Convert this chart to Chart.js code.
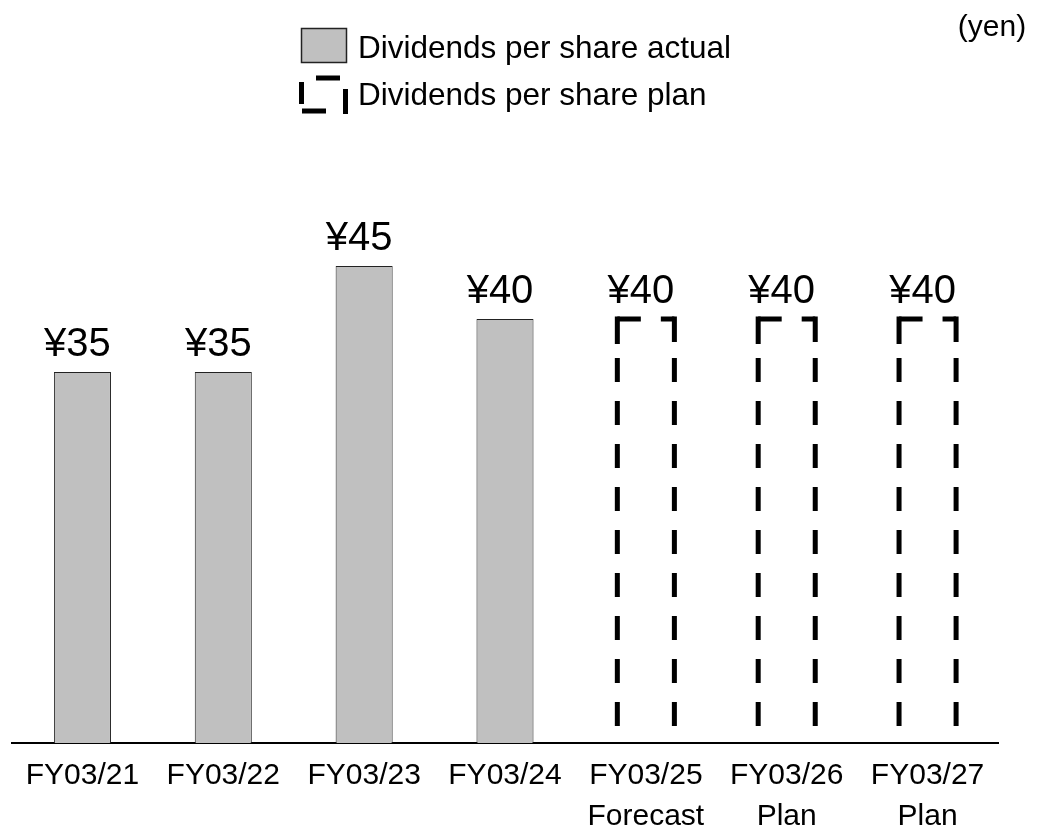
<!DOCTYPE html>
<html>
<head>
<meta charset="utf-8">
<script src="https://cdn.jsdelivr.net/npm/chart.js@4"></script>
<style>
  html, body { margin: 0; padding: 0; background: #fff; }
  #wrap { width: 1051px; height: 826px; position: relative; }
</style>
</head>
<body>
<div id="wrap"><canvas id="dividendChart"></canvas></div>
<script>
// Dữ liệu cổ tức mỗi cổ phiếu (yen)
const fiscalYears = ['FY03/21', 'FY03/22', 'FY03/23', 'FY03/24', 'FY03/25', 'FY03/26', 'FY03/27'];
const yearNotes = ['', '', '', '', 'Forecast', 'Plan', 'Plan'];
const actualDividends = [35, 35, 45, 40, null, null, null];
const planDividends = [null, null, null, null, 40, 40, 40];
const legendLabels = ['Dividends per share actual', 'Dividends per share plan'];
const unitLabel = '(yen)';

const FONT = '"Liberation Sans", Arial, sans-serif';
const barFill = '#c0c0c0';
const barEdge = '#222222';

// Nhãn trục x: có dòng thứ hai cho kế hoạch / dự báo
const xLabels = fiscalYears.map((fy, i) => yearNotes[i] ? [fy, yearNotes[i]] : fy);

// Vẽ khung nét đứt cho các cột kế hoạch
const dashedPlanBars = {
    id: 'dashedPlanBars',
    afterDatasetsDraw(chart) {
        const meta = chart.getDatasetMeta(1);
        const ctx = chart.ctx;
        const lw = 5;
        const rep = [];
        for (let i = 0; i < 20; i++) rep.push(24, 19);
        ctx.save();
        ctx.strokeStyle = '#000';
        ctx.lineWidth = lw;
        ctx.lineCap = 'butt';
        meta.data.forEach((bar, i) => {
            if (planDividends[i] == null) return;
            const left = bar.x - bar.width / 2;
            const right = bar.x + bar.width / 2;
            const top = bar.y;
            const base = bar.base;
            // cạnh trái
            ctx.setLineDash([25 + lw / 2, 14].concat(rep));
            ctx.beginPath();
            ctx.moveTo(left, top - lw / 2);
            ctx.lineTo(left, base);
            ctx.stroke();
            // cạnh trên
            ctx.setLineDash([23.5, 20, 200]);
            ctx.beginPath();
            ctx.moveTo(left, top);
            ctx.lineTo(right, top);
            ctx.stroke();
            // cạnh phải
            ctx.setLineDash([23 + lw / 2, 16].concat(rep));
            ctx.beginPath();
            ctx.moveTo(right, top - lw / 2);
            ctx.lineTo(right, base);
            ctx.stroke();
        });
        ctx.restore();
    }
};

// Nhãn giá trị trên đầu cột
const valueLabels = {
    id: 'valueLabels',
    afterDatasetsDraw(chart) {
        const ctx = chart.ctx;
        ctx.save();
        ctx.font = '40px ' + FONT;
        ctx.fillStyle = '#000';
        ctx.textAlign = 'center';
        ctx.textBaseline = 'alphabetic';
        chart.data.datasets.forEach((ds, di) => {
            const meta = chart.getDatasetMeta(di);
            meta.data.forEach((bar, i) => {
                const v = ds.data[i];
                if (v == null) return;
                ctx.fillText('¥' + v, bar.x - 5, bar.y - 16);
            });
        });
        ctx.restore();
    }
};

// Chú thích và đơn vị
const legendAndUnit = {
    id: 'legendAndUnit',
    afterDraw(chart) {
        const ctx = chart.ctx;
        ctx.save();
        // ô màu xám
        ctx.fillStyle = barFill;
        ctx.fillRect(301.5, 28.5, 45, 34);
        ctx.strokeStyle = barEdge;
        ctx.lineWidth = 1.5;
        ctx.strokeRect(301.5, 28.5, 45, 34);
        // ô nét đứt
        ctx.strokeStyle = '#000';
        ctx.lineWidth = 5;
        ctx.beginPath();
        ctx.moveTo(316, 78); ctx.lineTo(340, 78);
        ctx.moveTo(301.5, 82); ctx.lineTo(301.5, 104);
        ctx.moveTo(302, 111); ctx.lineTo(326, 111);
        ctx.moveTo(345.5, 89); ctx.lineTo(345.5, 114);
        ctx.stroke();
        // chữ
        ctx.fillStyle = '#000';
        ctx.font = '31.5px ' + FONT;
        ctx.textAlign = 'left';
        ctx.textBaseline = 'alphabetic';
        ctx.fillText(legendLabels[0], 358, 58);
        ctx.fillText(legendLabels[1], 358, 105);
        ctx.textAlign = 'center';
        ctx.font = '30px ' + FONT;
        ctx.fillText(unitLabel, 992, 36);
        ctx.restore();
    }
};

const ctx = document.getElementById('dividendChart').getContext('2d');
new Chart(ctx, {
    type: 'bar',
    data: {
        labels: xLabels,
        datasets: [
            {
                label: legendLabels[0],
                data: actualDividends,
                backgroundColor: barFill,
                borderColor: barEdge,
                borderWidth: 1,
                grouped: false,
                barPercentage: 0.405,
                categoryPercentage: 1
            },
            {
                label: legendLabels[1],
                data: planDividends,
                backgroundColor: 'rgba(0,0,0,0)',
                borderWidth: 0,
                grouped: false,
                barPercentage: 0.405,
                categoryPercentage: 1
            }
        ]
    },
    options: {
        responsive: true,
        maintainAspectRatio: false,
        animation: false,
        events: [],
        layout: { padding: { top: 107, left: 12, right: 53, bottom: 0 } },
        plugins: {
            legend: { display: false },
            tooltip: { enabled: false },
            title: { display: false }
        },
        scales: {
            x: {
                grid: { display: false, drawTicks: false },
                border: { display: true, color: '#000', width: 2 },
                ticks: {
                    color: '#000',
                    font: { family: FONT, size: 30, lineHeight: 1.37 },
                    padding: 12,
                    maxRotation: 0,
                    minRotation: 0,
                    autoSkip: false
                },
                afterFit(scale) { scale.height = 83; }
            },
            y: {
                display: false,
                min: 0,
                max: 60
            }
        }
    },
    plugins: [dashedPlanBars, valueLabels, legendAndUnit]
});
</script>
</body>
</html>
